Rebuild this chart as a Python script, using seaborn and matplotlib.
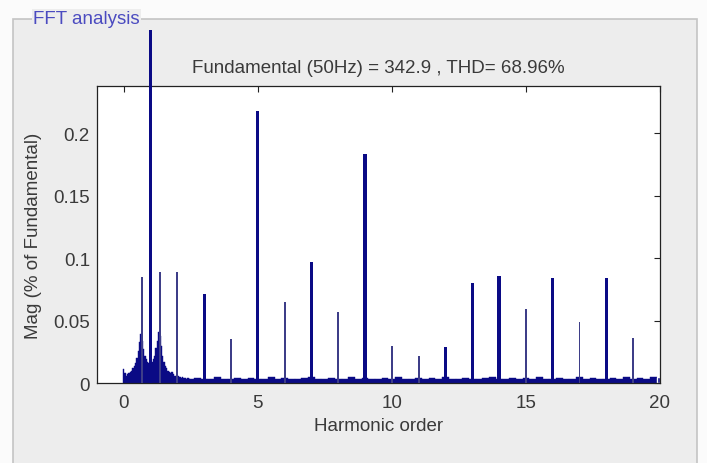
import numpy as np
import matplotlib
matplotlib.use("Agg")
import matplotlib.pyplot as plt
from matplotlib.patches import Rectangle
import seaborn as sns

# harmonic lines (order, magnitude as fraction of fundamental)
harm_order = [0.67, 1, 1.37, 2, 3, 4, 5, 6, 7, 8, 9, 10, 11, 12, 13, 14, 15, 16, 17, 18, 19]
harm_mag = [0.085, 0.282, 0.089, 0.089, 0.071, 0.035, 0.218, 0.065, 0.097, 0.057, 0.183,
            0.030, 0.022, 0.029, 0.080, 0.086, 0.059, 0.084, 0.049, 0.084, 0.036]
harm_thick = [False, True, False, False, True, False, True, False, True, False, True,
              False, False, True, True, True, False, True, False, True, False]

# low-frequency cluster around the fundamental, step 0.05
cluster_x = [round(0.05 * i, 2) for i in range(50)]
cluster_mag = [0.011, 0.008, 0.006, 0.007, 0.008, 0.009, 0.010, 0.012, 0.014, 0.016,
               0.020, 0.026, 0.033, 0.039, 0.034, 0.027, 0.022, 0.019, 0.017, 0.016,
               0.016, 0.017, 0.019, 0.022, 0.028, 0.034, 0.041, 0.038, 0.030, 0.022,
               0.017, 0.014, 0.012, 0.010, 0.009, 0.008, 0.009, 0.007, 0.006, 0.006,
               0.005, 0.006, 0.005, 0.004, 0.005, 0.004, 0.004, 0.003, 0.004, 0.003]

# noise floor from 2.5 to 20, step 0.25
floor_x = [2.5 + 0.25 * i for i in range(70)]
floor_mag = [0.003, 0.004, 0.003, 0.003, 0.005, 0.003, 0.003, 0.004, 0.003, 0.004,
             0.003, 0.003, 0.005, 0.003, 0.004, 0.003, 0.003, 0.004, 0.005, 0.003,
             0.003, 0.004, 0.003, 0.003, 0.005, 0.003, 0.004, 0.003, 0.003, 0.004,
             0.003, 0.005, 0.003, 0.003, 0.004, 0.003, 0.004, 0.003, 0.005, 0.003,
             0.003, 0.004, 0.003, 0.003, 0.004, 0.005, 0.003, 0.003, 0.004, 0.003,
             0.004, 0.003, 0.005, 0.003, 0.003, 0.004, 0.003, 0.003, 0.005, 0.003,
             0.004, 0.003, 0.003, 0.004, 0.003, 0.005, 0.003, 0.004, 0.003, 0.005]

x_ticks = [0, 5, 10, 15, 20]
y_ticks = [0, 0.05, 0.1, 0.15, 0.2]
y_tick_labels = ["0", "0.05", "0.1", "0.15", "0.2"]

sns.set_style("white")
plt.rcParams['font.family'] = ['Liberation Sans', 'DejaVu Sans']

navy = "#0a0a85"
thin_col = "#3e3e88"
txt_col = "#3a3a3a"
fs = 13.5

fig = plt.figure(figsize=(7.07, 4.64), dpi=100)
fig.patch.set_facecolor("#fbfbfb")

# group box panel
panel = Rectangle((13 / 707, -0.01), (697 - 13) / 707, 1.01 - 20 / 464, transform=fig.transFigure,
                  facecolor="#ededed", edgecolor="#c4c4c4", lw=1.2, zorder=-10)
fig.patches.append(panel)
fig.text(33 / 707, 1 - 20 / 464, "FFT analysis", color="#4b4bc0", fontsize=fs,
         va="center", ha="left", zorder=-5,
         bbox=dict(facecolor="#ededed", edgecolor="none", pad=1.0))

ax = fig.add_axes([0.137, 0.1724, 0.7965, 0.6401])
ax.set_facecolor("white")

sns.histplot(x=cluster_x, weights=cluster_mag, binwidth=0.05, binrange=(-0.025, 2.475),
             color=navy, edgecolor=navy, linewidth=0.3, alpha=1, ax=ax)
sns.histplot(x=floor_x, weights=floor_mag, binwidth=0.25, binrange=(2.375, 19.875),
             color=navy, edgecolor=navy, linewidth=0.3, alpha=1, ax=ax)
ax.bar([19.95], [0.005], width=0.1, color=navy)

for xo, m, thick in zip(harm_order, harm_mag, harm_thick):
    ax.bar(xo, m, width=0.12 if thick else 0.07, color=navy if thick else thin_col,
           edgecolor="none", clip_on=False, zorder=3)

ax.set_xlim(-1, 20)
ax.set_ylim(0, 0.2376)
ax.set_xticks(x_ticks)
ax.set_yticks(y_ticks)
ax.set_yticklabels(y_tick_labels)
ax.tick_params(direction="in", length=4, width=0.8, top=True, right=True,
               labelsize=fs, labelcolor=txt_col, color="#222222")
ax.tick_params(axis="x", pad=8)
ax.tick_params(axis="y", pad=5)
for s in ax.spines.values():
    s.set_visible(True)
    s.set_color("#222222")
    s.set_linewidth(0.9)

ax.set_xlabel("Harmonic order", fontsize=fs, color=txt_col, labelpad=4)
ax.set_ylabel("Mag (% of Fundamental)", fontsize=fs, color=txt_col, labelpad=8)
ax.set_title("Fundamental (50Hz) = 342.9 , THD= 68.96%", fontsize=fs, color=txt_col, pad=10)

fig.savefig("out.png", dpi=100, facecolor=fig.get_facecolor())
